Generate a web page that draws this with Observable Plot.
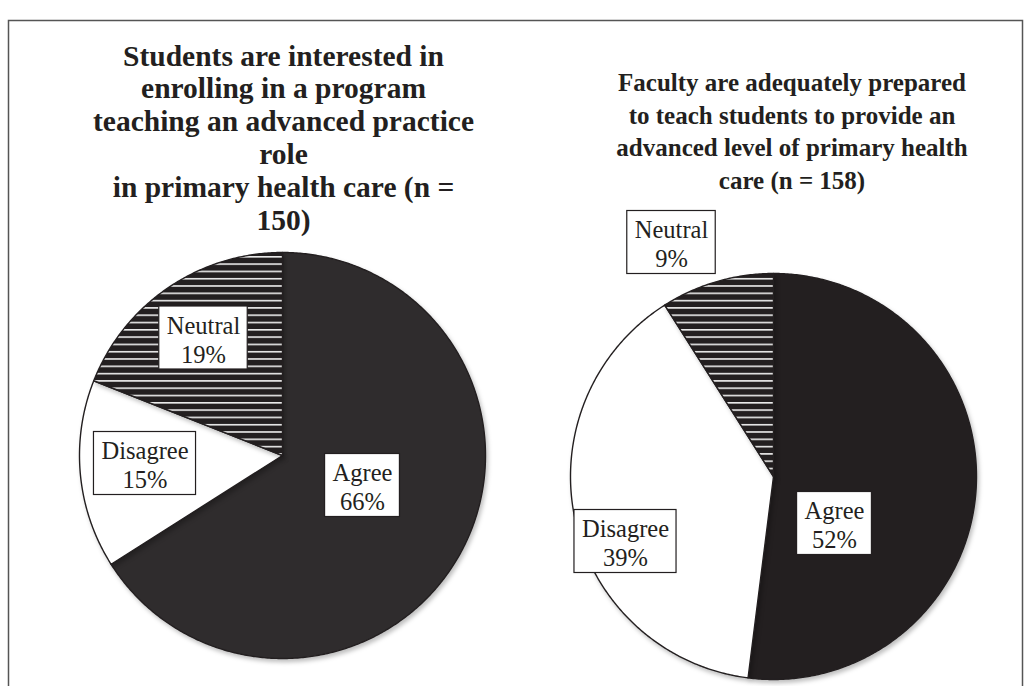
<!DOCTYPE html>
<html>
<head>
<meta charset="utf-8">
<script src="https://cdn.jsdelivr.net/npm/d3@7"></script>
<script src="https://cdn.jsdelivr.net/npm/@observablehq/plot@0.6"></script>
<style>
  html, body { margin: 0; padding: 0; background: #fff; }
</style>
</head>
<body>
<div id="chart"></div>
<script>
// ---- data ----
const categories = ["Agree", "Disagree", "Neutral"];
const studentsPercent = [66, 15, 19];
const facultyPercent = [52, 39, 9];
const studentsTitleLines = ["Students are interested in", "enrolling in a program", "teaching an advanced practice", "role", "in primary health care (n =", "150)"];
const facultyTitleLines = ["Faculty are adequately prepared", "to teach students to provide an", "advanced level of primary health", "care (n = 158)"];

// ---- layout ----
const W = 1030, H = 686;
const FONT = "'Liberation Serif', 'Times New Roman', serif";
const INK = "#231f20";
const LABEL_SIZE = 24.5;
const pies = [
  {name: "students", values: studentsPercent, title: studentsTitleLines,
   cx: 282, cy: 455, r: 203, agreeFill: "#2f2c2d",
   labelOffsets: [[80, 30], [-137.5, 8], [-79, -117.5]],
   titleX: 283, titleY: 136.5, titleSize: 29.5, titleLH: 1.112},
  {name: "faculty", values: facultyPercent, title: facultyTitleLines,
   cx: 773, cy: 476, r: 203, agreeFill: "#231f20",
   labelOffsets: [[61, 47], [-148, 65], [-102, -234]],
   titleX: 791.5, titleY: 129, titleSize: 25, titleLH: 1.31}
];

// text measurement for label boxes
const ctx = document.createElement("canvas").getContext("2d");
ctx.font = `${LABEL_SIZE}px ${FONT}`;
const measure = s => ctx.measureText(s).width;

const marks = [];
const boxes = [];
const labels = [];
pies.forEach(p => {
  const arcs = d3.pie().sort(null).value(d => d)(p.values);
  arcs.forEach((a, i) => {
    const pts = [{x: p.cx, y: p.cy}];
    const n = Math.max(2, Math.ceil((a.endAngle - a.startAngle) / (Math.PI / 360)));
    for (let k = 0; k <= n; k++) {
      const ang = a.startAngle + (a.endAngle - a.startAngle) * k / n;
      pts.push({x: p.cx + p.r * Math.sin(ang), y: p.cy - p.r * Math.cos(ang)});
    }
    pts.push({x: p.cx, y: p.cy});
    const cat = categories[i];
    const fill = cat === "Agree" ? p.agreeFill : cat === "Disagree" ? "#ffffff" : "url(#hatch)";
    marks.push(Plot.line(pts, {x: "x", y: "y", fill, stroke: INK, strokeWidth: 1.4, strokeLinejoin: "round", ariaDescription: "slice"}));
    const [dx, dy] = p.labelOffsets[i];
    const lines = [cat, `${a.data}%`];
    const w = Math.max(...lines.map(measure)) + 15;
    const lx = p.cx + dx, ly = p.cy + dy;
    boxes.push({x1: lx - w / 2, x2: lx + w / 2, y1: ly - 31.5, y2: ly + 31.5});
    labels.push({x: lx, y: ly + 1, text: lines.join("\n")});
  });
});

marks.push(Plot.rect(boxes, {x1: "x1", x2: "x2", y1: "y1", y2: "y2", fill: "white", stroke: INK, strokeWidth: 1.2}));
marks.push(Plot.text(labels, {x: "x", y: "y", text: "text", fontSize: LABEL_SIZE, lineHeight: 1.18, fill: INK, fontFamily: FONT}));

pies.forEach(p => {
  marks.push(Plot.text([p.title.join("\n")], {
    x: () => p.titleX, y: () => p.titleY, text: d => d,
    fontSize: p.titleSize, lineHeight: p.titleLH, fontWeight: "bold", fill: INK,
    fontFamily: FONT
  }));
});

marks.push(Plot.frame({stroke: "#555", strokeWidth: 1.5, insetTop: 20, insetLeft: 8, insetRight: 8, insetBottom: -20}));

const svg = Plot.plot({
  width: W, height: H,
  marginTop: 0, marginBottom: 0, marginLeft: 0, marginRight: 0,
  x: {domain: [0, W], range: [0, W], axis: null},
  y: {domain: [0, H], range: [0, H], axis: null},
  style: {background: "white", fontFamily: FONT},
  marks
});

// hatch pattern for the Neutral slices
const ns = "http://www.w3.org/2000/svg";
const defs = document.createElementNS(ns, "defs");
defs.innerHTML = `
  <pattern id="hatch" patternUnits="userSpaceOnUse" width="10" height="7.3">
    <rect width="10" height="7.3" fill="${INK}"/>
    <rect y="0" width="10" height="1.6" fill="#ececec"/>
  </pattern>`;
svg.insertBefore(defs, svg.firstChild);

// soft shadow on pies
svg.querySelectorAll('g[aria-description="slice"]').forEach(g => {
  g.style.filter = "drop-shadow(2px 3px 2px rgba(0,0,0,0.25))";
});

document.getElementById("chart").appendChild(svg);
</script>
</body>
</html>
